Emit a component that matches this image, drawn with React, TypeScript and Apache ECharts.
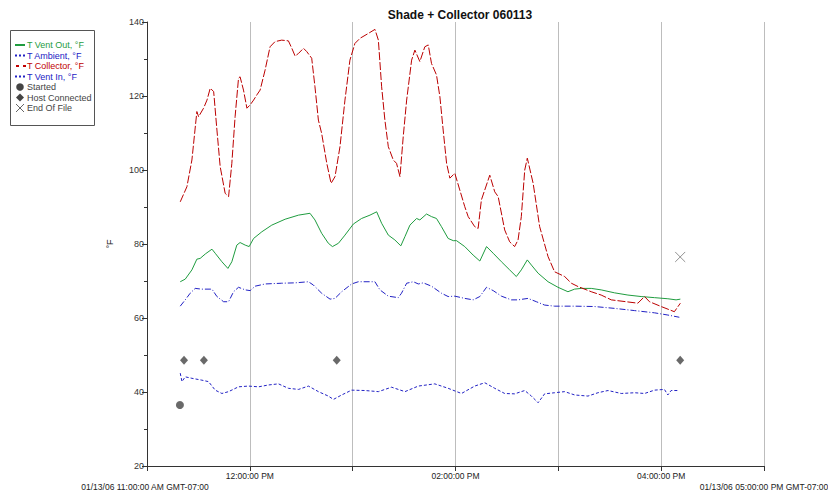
import React, { useEffect, useRef } from "react";
import * as echarts from "echarts";

// minutes after 11:00 AM
const collectorMin = [19.4, 23.3, 26.2, 29.1, 30.1, 33.0, 35.0, 36.9, 38.9, 40.8, 42.7, 45.6, 47.6, 49.5, 51.4, 53.4, 54.3, 56.3, 58.3, 60.2, 62.2, 64.1, 66.0, 68.9, 71.8, 74.7, 78.6, 82.5, 84.5, 86.4, 88.4, 91.3, 93.2, 96.1, 98.0, 100.0, 101.9, 104.9, 107.4, 109.7, 112.6, 115.5, 118.4, 121.3, 124.3, 129.1, 133.0, 135.0, 136.9, 138.8, 140.8, 143.7, 145.6, 147.6, 149.5, 151.5, 154.4, 156.3, 159.2, 162.1, 164.1, 166.0, 168.9, 170.9, 172.8, 174.8, 176.7, 179.6, 182.5, 185.4, 187.4, 191.2, 193.2, 195.1, 200.0, 202.9, 204.9, 208.7, 211.6, 214.5, 216.5, 218.4, 220.4, 221.9, 225.3, 229.1, 234.0, 237.8, 243.7, 247.6, 251.5, 259.2, 265.0, 270.9, 286.4, 290.3, 293.2, 300.0, 307.7, 311.2];
const collectorVal = [91.4, 95.5, 102.7, 115.8, 114.4, 116.7, 118.9, 122.1, 121.2, 110.8, 100.9, 93.7, 92.8, 101.8, 114.4, 124.8, 125.2, 121.6, 116.7, 117.6, 118.9, 120.3, 121.6, 127.0, 133.3, 134.7, 135.1, 134.9, 132.9, 130.8, 131.5, 132.9, 132.0, 130.2, 122.5, 113.5, 109.9, 101.8, 96.4, 98.2, 106.3, 118.9, 129.7, 134.2, 135.6, 136.9, 138.0, 135.1, 122.5, 113.5, 106.3, 102.7, 101.8, 98.2, 109.0, 118.9, 129.7, 132.4, 129.3, 133.3, 133.8, 128.8, 125.7, 119.8, 110.8, 101.8, 97.8, 99.1, 94.6, 90.1, 87.4, 84.7, 84.2, 91.9, 98.6, 94.1, 92.8, 83.8, 80.6, 79.3, 81.1, 87.4, 100.0, 103.2, 96.4, 84.7, 76.6, 72.5, 71.2, 69.4, 68.5, 67.1, 66.2, 64.9, 64.0, 65.8, 64.4, 63.1, 61.7, 64.0];

const ventOutMin = [19.4, 22.3, 26.2, 29.1, 31.0, 34.0, 37.9, 39.8, 43.7, 47.2, 49.5, 52.4, 54.3, 57.3, 59.6, 62.2, 67.0, 72.8, 80.6, 88.4, 95.1, 98.0, 101.9, 105.8, 108.2, 111.7, 115.5, 120.4, 125.2, 130.1, 134.0, 136.9, 140.8, 144.6, 148.1, 150.5, 153.4, 157.3, 159.2, 163.1, 166.0, 168.9, 171.8, 175.7, 178.7, 180.6, 185.4, 190.3, 194.2, 198.1, 202.0, 206.8, 211.6, 215.5, 218.4, 221.9, 224.3, 228.2, 234.0, 239.8, 245.6, 249.5, 253.4, 259.2, 265.0, 272.8, 280.6, 288.3, 296.1, 303.9, 308.7, 311.2];
const ventOutVal = [69.8, 70.5, 73.0, 75.9, 76.1, 77.3, 78.6, 77.5, 75.2, 73.4, 75.2, 79.7, 80.4, 79.7, 79.3, 81.5, 83.3, 85.1, 86.7, 87.8, 88.3, 86.5, 82.9, 80.2, 79.3, 80.2, 82.4, 85.4, 86.9, 87.8, 88.7, 85.6, 82.4, 81.1, 79.5, 82.0, 85.1, 86.9, 86.5, 88.1, 87.4, 86.9, 84.7, 81.5, 80.9, 80.9, 79.3, 77.0, 75.4, 79.3, 77.5, 75.2, 73.0, 71.2, 73.0, 75.7, 74.3, 72.1, 69.8, 68.3, 67.1, 67.8, 68.0, 68.0, 67.6, 66.8, 66.2, 65.8, 65.5, 65.2, 64.9, 65.1];

const ventInMin = [19.4, 22.3, 25.2, 28.1, 32.0, 37.9, 40.8, 44.7, 47.6, 50.5, 53.4, 57.3, 60.2, 63.1, 68.9, 78.6, 86.4, 94.2, 97.1, 101.9, 106.8, 109.7, 113.6, 119.4, 123.3, 133.0, 135.9, 140.8, 146.6, 148.5, 151.5, 155.4, 158.3, 161.2, 166.0, 171.8, 175.7, 179.6, 185.4, 190.3, 194.2, 198.1, 202.0, 206.8, 212.6, 216.5, 222.3, 227.2, 232.0, 237.8, 249.5, 261.1, 272.8, 284.5, 296.1, 303.9, 310.6];
const ventInVal = [63.2, 64.9, 66.7, 68.0, 67.8, 67.8, 65.8, 64.4, 64.4, 67.1, 68.3, 67.6, 67.4, 68.6, 69.2, 69.4, 69.5, 69.8, 68.9, 66.7, 65.1, 65.3, 67.1, 69.2, 69.8, 69.8, 67.6, 65.9, 65.5, 66.7, 69.4, 69.8, 69.2, 69.5, 68.6, 66.7, 65.8, 65.9, 65.3, 64.9, 65.8, 68.3, 67.4, 65.9, 64.9, 64.9, 65.3, 64.4, 63.5, 63.2, 63.2, 63.1, 62.6, 62.0, 61.4, 60.8, 60.2];

const ambientMin = [19.4, 20.4, 22.3, 26.2, 32.0, 35.9, 39.8, 43.7, 47.6, 53.4, 59.2, 65.1, 70.9, 76.7, 82.5, 88.4, 94.2, 100.0, 105.8, 108.8, 113.6, 119.4, 127.2, 135.0, 142.7, 150.5, 158.3, 167.9, 175.7, 183.5, 191.2, 197.1, 202.9, 208.7, 214.5, 220.4, 224.3, 228.2, 232.0, 237.8, 243.7, 249.5, 257.3, 263.1, 269.0, 276.7, 284.5, 290.3, 296.1, 301.9, 303.9, 305.8, 309.7];
const ambientVal = [45.1, 42.8, 44.1, 43.7, 43.2, 42.8, 40.5, 39.6, 40.1, 41.4, 41.6, 41.4, 41.9, 42.2, 41.0, 40.7, 41.6, 40.1, 38.9, 38.0, 39.2, 40.5, 40.4, 40.1, 41.3, 40.1, 41.6, 42.2, 41.0, 39.6, 41.6, 42.5, 41.0, 39.6, 39.5, 40.4, 38.9, 37.1, 39.5, 39.8, 40.1, 39.2, 38.9, 39.8, 40.4, 39.6, 39.8, 39.6, 40.5, 40.7, 39.2, 40.4, 40.4];

const startedMin = [19.2];
const startedVal = [36.5];
const hostMin = [21.6, 33.2, 110.7, 311.1];
const hostVal = [48.6, 48.6, 48.6, 48.6];
const eofMin = [311.1];
const eofVal = [76.5];

const hourLabels = ["", "12:00:00 PM", "", "02:00:00 PM", "", "04:00:00 PM", ""];
const startLabel = "01/13/06 11:00:00 AM GMT-07:00";
const endLabel = "01/13/06 05:00:00 PM GMT-07:00";
const titleText = "Shade + Collector 060113";

const legendItems = [
  { name: "T Vent Out, °F", color: "#1f9c3f" },
  { name: "T Ambient, °F", color: "#2222c4" },
  { name: "T Collector, °F", color: "#c00000" },
  { name: "T Vent In, °F", color: "#2222c4" },
  { name: "Started", color: "#444444" },
  { name: "Host Connected", color: "#444444" },
  { name: "End Of File", color: "#444444" },
];

const pairs = (m: number[], v: number[]) => m.map((x, i) => [x, v[i]]);
const FONT = "'Liberation Sans', Arial, sans-serif";

export default function App() {
  const ref = useRef<HTMLDivElement>(null);
  useEffect(() => {
    if (!ref.current) return;
    const chart = echarts.init(ref.current, undefined, { renderer: "svg" });
    const lx = 15, tx = 27, y0 = 45, dy = 10.5;
    const legendChildren: any[] = [
      { type: "rect", shape: { x: 10.5, y: 30.5, width: 84, height: 95 }, style: { fill: "#fff", stroke: "#555", lineWidth: 1 } },
    ];
    legendItems.forEach((it, i) => {
      legendChildren.push({
        type: "text", x: tx, y: y0 + i * dy,
        style: { text: it.name, fill: it.color, fontSize: 9, fontFamily: FONT, verticalAlign: "middle", align: "left" },
      });
    });
    const ly = (i: number) => y0 + i * dy;
    legendChildren.push(
      { type: "line", shape: { x1: lx, y1: ly(0), x2: lx + 10, y2: ly(0) }, style: { stroke: legendItems[0].color, lineWidth: 2 } },
      { type: "line", shape: { x1: lx, y1: ly(1), x2: lx + 10, y2: ly(1) }, style: { stroke: legendItems[1].color, lineWidth: 2, lineDash: [2, 2] } },
      { type: "line", shape: { x1: lx + 1, y1: ly(2), x2: lx + 11, y2: ly(2) }, style: { stroke: legendItems[2].color, lineWidth: 2, lineDash: [3, 4] } },
      { type: "line", shape: { x1: lx, y1: ly(3), x2: lx + 10, y2: ly(3) }, style: { stroke: legendItems[3].color, lineWidth: 2, lineDash: [2, 2] } },
      { type: "circle", shape: { cx: lx + 5, cy: ly(4), r: 3.8 }, style: { fill: "#444" } },
      { type: "polygon", shape: { points: [[lx + 5, ly(5) - 4], [lx + 9, ly(5)], [lx + 5, ly(5) + 4], [lx + 1, ly(5)]] }, style: { fill: "#444" } },
      { type: "line", shape: { x1: lx + 1, y1: ly(6) - 4, x2: lx + 9, y2: ly(6) + 4 }, style: { stroke: "#666", lineWidth: 1 } },
      { type: "line", shape: { x1: lx + 1, y1: ly(6) + 4, x2: lx + 9, y2: ly(6) - 4 }, style: { stroke: "#666", lineWidth: 1 } },
    );

    chart.setOption({
      animation: false,
      backgroundColor: "#ffffff",
      title: {
        text: titleText, left: 455, top: 4, textAlign: "center",
        textStyle: { fontSize: 12, fontWeight: "bold", fontFamily: FONT, color: "#111" },
      },
      grid: { left: 147, right: 64, top: 22, bottom: 30, containLabel: false },
      xAxis: {
        type: "value", min: 0, max: 360, interval: 60,
        axisLine: { lineStyle: { color: "#333" } },
        axisTick: { show: true, length: 5, lineStyle: { color: "#333" } },
        splitLine: { show: true, lineStyle: { color: "#bdbdbd", width: 1 } },
        axisLabel: {
          fontSize: 8.5, fontFamily: FONT, color: "#222", margin: 5,
          formatter: (v: number) => hourLabels[Math.round(v / 60)] ?? "",
        },
      },
      yAxis: {
        type: "value", min: 20, max: 140, interval: 20,
        name: "°F", nameLocation: "middle", nameGap: 33, nameRotate: 90,
        nameTextStyle: { fontSize: 9, fontFamily: FONT, color: "#222" },
        axisLine: { show: true, lineStyle: { color: "#333" } },
        axisTick: { show: true, length: 5, lineStyle: { color: "#333" } },
        minorTick: { show: true, splitNumber: 2, length: 3, lineStyle: { color: "#333" } },
        splitLine: { show: false },
        axisLabel: { fontSize: 9, fontFamily: FONT, color: "#333", margin: 3 },
      },
      graphic: [
        { type: "group", children: legendChildren },
        { type: "text", x: 145, y: 487, style: { text: startLabel, fill: "#222", fontSize: 8.5, fontFamily: FONT, align: "center", verticalAlign: "middle" } },
        { type: "text", x: 764, y: 487, style: { text: endLabel, fill: "#222", fontSize: 8.5, fontFamily: FONT, align: "center", verticalAlign: "middle" } },
      ],
      series: [
        { name: "T Vent Out, °F", type: "line", data: pairs(ventOutMin, ventOutVal), showSymbol: false, symbol: "none",
          lineStyle: { color: "#1f9c3f", width: 1 } },
        { name: "T Ambient, °F", type: "line", data: pairs(ambientMin, ambientVal), showSymbol: false, symbol: "none",
          lineStyle: { color: "#2222c4", width: 1, type: [3, 2] } },
        { name: "T Collector, °F", type: "line", data: pairs(collectorMin, collectorVal), showSymbol: false, symbol: "none",
          lineStyle: { color: "#bb0000", width: 1, type: [8, 2] } },
        { name: "T Vent In, °F", type: "line", data: pairs(ventInMin, ventInVal), showSymbol: false, symbol: "none",
          lineStyle: { color: "#2222c4", width: 1, type: [6, 2, 1, 2] } },
        { name: "Started", type: "scatter", data: pairs(startedMin, startedVal), symbol: "circle", symbolSize: 8,
          itemStyle: { color: "#444" }, z: 5 },
        { name: "Host Connected", type: "scatter", data: pairs(hostMin, hostVal), symbol: "diamond", symbolSize: [8, 9],
          itemStyle: { color: "#444" }, z: 5 },
        { name: "End Of File", type: "scatter", data: pairs(eofMin, eofVal), symbol: "path://M0,0L10,10M10,0L0,10", symbolSize: 10,
          itemStyle: { color: "none", borderColor: "#777", borderWidth: 1 }, z: 5 },
      ],
    });
    return () => chart.dispose();
  }, []);
  return <div ref={ref} style={{ position: "fixed", left: 0, top: 0, width: 828, height: 496, background: "#fff" }} />;
}
